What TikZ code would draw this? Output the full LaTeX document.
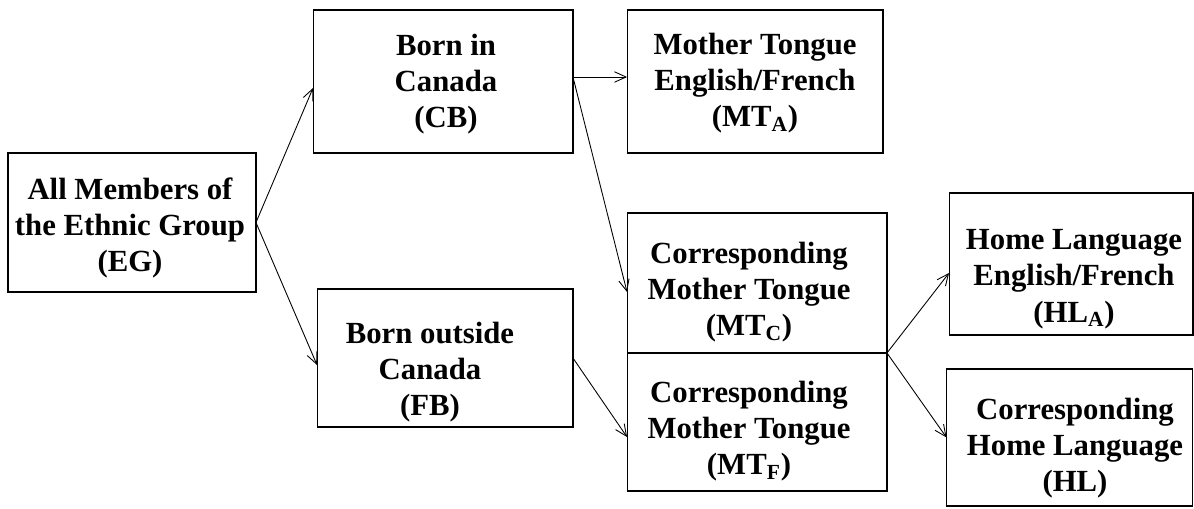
\documentclass[tikz,border=0pt]{standalone}
\usepackage{fontspec}
\setmainfont{Liberation Serif}
\usetikzlibrary{arrows.meta,positioning}

\begin{document}
\begin{tikzpicture}[x=0.02cm, y=-0.02cm, line width=0.6pt]
\tikzstyle{every node} = [inner sep=0pt, outer sep=0pt]
\tikzstyle{box} = [draw, rectangle]
\tikzstyle{txt} = [align=center, font=\bfseries\fontsize{17.5}{20.7}\selectfont]
\tikzstyle{arr} = [-{Straight Barb[length=2.3mm, width=2.1mm]}, line width=0.5pt]
\useasboundingbox (0,0) rectangle (1194,508);
% boxes
\node[box, minimum width=4.96cm, minimum height=2.78cm] (eg) at (132,222.5) {};
\node[box, minimum width=5.2cm, minimum height=2.86cm] (cb) at (443,81.5) {};
\node[box, minimum width=5.12cm, minimum height=2.86cm] (mta) at (755,81.5) {};
\node[box, minimum width=5.12cm, minimum height=2.76cm] (fb) at (445,358) {};
\node[box, minimum width=5.2cm, minimum height=2.8cm] (mtc) at (757,283) {};
\node[box, minimum width=5.2cm, minimum height=2.76cm] (mtf) at (757,422) {};
\node[box, minimum width=4.88cm, minimum height=2.84cm] (hla) at (1071,264) {};
\node[box, minimum width=4.92cm, minimum height=2.74cm] (hl) at (1069.5,437.5) {};
% texts
\node[txt] (egtxt) at (130,228) {All Members of\\the Ethnic Group\\(EG)};
\node[txt] (cbtxt) at (446,84) {Born in\\Canada\\(CB)};
\node[txt] (mtatxt) at (755,83) {Mother Tongue\\English/French\\(MT\textsubscript{A})};
\node[txt] (fbtxt) at (430,372) {Born outside\\Canada\\(FB)};
\node[txt] (mtctxt) at (749,292) {Corresponding\\Mother Tongue\\(MT\textsubscript{C})};
\node[txt] (mtftxt) at (749,431) {Corresponding\\Mother Tongue\\(MT\textsubscript{F})};
\node[txt] (hlatxt) at (1074,279) {Home Language\\English/French\\(HL\textsubscript{A})};
\node[txt] (hltxt) at (1075,448) {Corresponding\\Home Language\\(HL)};
% arrows
\draw[arr] (eg.east) -- ([yshift=-0.13cm]cb.west);
\draw[arr] (eg.east) -- ([yshift=-0.14cm]fb.west);
\draw[arr] ([yshift=0.09cm]cb.east) -- ([yshift=0.09cm]mta.west);
\draw[arr] ([yshift=0.09cm]cb.east) -- ([yshift=-0.18cm]mtc.west);
\draw[arr] (fb.east) -- ([yshift=-0.3cm]mtf.west);
\draw[arr] (mtc.south east) -- ([yshift=-0.18cm]hla.west);
\draw[arr] (mtc.south east) -- (hl.west);
\end{tikzpicture}
\end{document}
